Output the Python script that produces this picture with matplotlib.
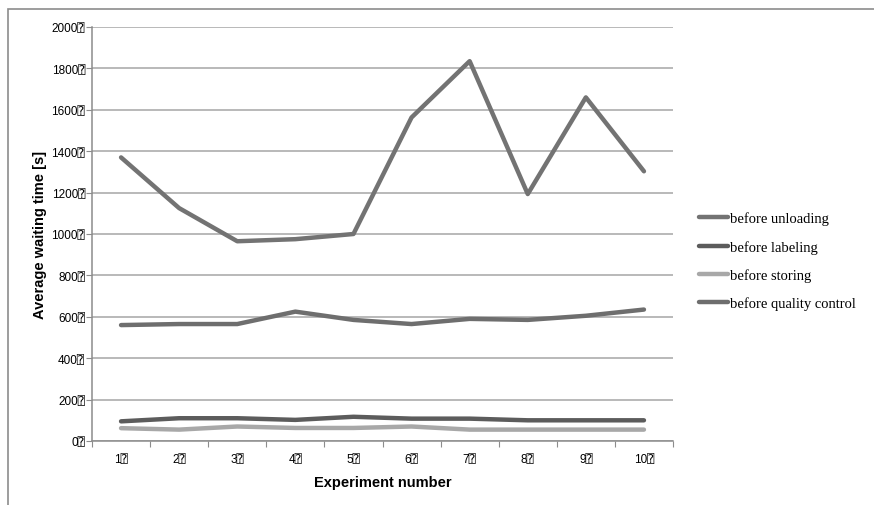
import matplotlib.pyplot as plt
from matplotlib.lines import Line2D
from matplotlib.patches import Rectangle

experiments = [1, 2, 3, 4, 5, 6, 7, 8, 9, 10]
before_unloading = [1370, 1125, 965, 975, 1000, 1563, 1835, 1193, 1660, 1303]
before_labeling = [95, 110, 110, 102, 117, 108, 108, 100, 100, 100]
before_storing = [62, 55, 70, 63, 63, 70, 55, 55, 55, 55]
before_quality_control = [560, 565, 565, 625, 585, 565, 590, 585, 605, 635]
series_names = ["before unloading", "before labeling", "before storing",
                "before quality control"]
y_ticks = [0, 200, 400, 600, 800, 1000, 1200, 1400, 1600, 1800, 2000]

colors = ["#737373", "#5c5c5c", "#a8a8a8", "#6e6e6e"]
mark = "\u2370"
tick_font = ["Liberation Sans", "DejaVu Sans Mono", "DejaVu Sans"]

fig = plt.figure(figsize=(8.74, 5.06), dpi=100)
fig.patches.append(Rectangle((8 / 874, -0.1), 1.2, 1.1 - 10 / 506,
                             transform=fig.transFigure, fill=False,
                             edgecolor="#8c8c8c", linewidth=1.2))

ax = fig.add_axes([92 / 874, 64 / 506, 581 / 874, 414 / 506])

x = list(range(len(experiments)))
all_series = [before_unloading, before_labeling, before_storing,
              before_quality_control]
for vals, c in zip(all_series, colors):
    ax.plot(x, vals, color=c, linewidth=3.2, solid_capstyle="round",
            solid_joinstyle="round")

ax.set_xlim(-0.5, len(experiments) - 0.5)
ax.set_ylim(0, 2000)
ax.set_yticks(y_ticks)
ax.set_yticklabels([f"{v}{mark}" for v in y_ticks], family=tick_font,
                   fontsize=8.5)
ax.set_xticks([i - 0.5 for i in range(len(experiments) + 1)])
ax.set_xticklabels([])
ax.set_xticks(x, minor=True)
ax.set_xticklabels([f"{e}{mark}" for e in experiments], minor=True,
                   family=tick_font, fontsize=8.5)
ax.tick_params(axis="x", which="minor", length=0, pad=9)
ax.tick_params(axis="x", which="major", length=4, color="#8c8c8c")
ax.tick_params(axis="y", length=4, color="#8c8c8c", pad=1)

ax.grid(axis="y", color="#a6a6a6", linewidth=1.1)
ax.set_axisbelow(True)
for s in ["top", "right"]:
    ax.spines[s].set_visible(False)
for s in ["left", "bottom"]:
    ax.spines[s].set_color("#8c8c8c")
    ax.spines[s].set_linewidth(1.1)

ax.set_xlabel("Experiment number", family="Liberation Sans",
              fontweight="bold", fontsize=10.5, labelpad=7)
ax.set_ylabel("Average waiting time [s]", family="Liberation Sans",
              fontweight="bold", fontsize=10.5, labelpad=3)

handles = [Line2D([0], [0], color=c, linewidth=3.2, solid_capstyle="round")
           for c in colors]
fig.legend(handles, series_names, loc="center left",
           bbox_to_anchor=(686 / 874, 1 - 262 / 506), frameon=False,
           prop={"family": "Liberation Serif", "size": 10.5},
           handlelength=2.0, handletextpad=0.15, labelspacing=1.0)

fig.savefig("out.png", dpi=100)
